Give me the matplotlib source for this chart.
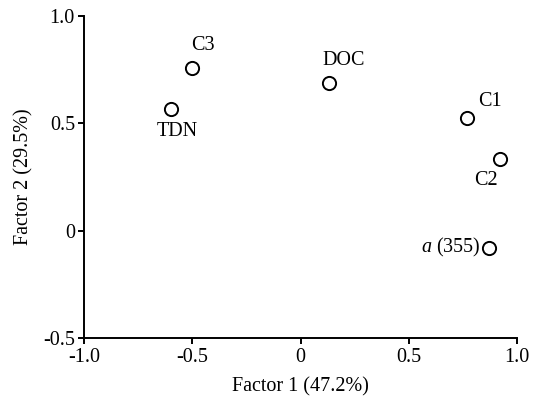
import matplotlib.pyplot as plt

# Factor loadings
names = ['C3', 'TDN', 'DOC', 'C1', 'C2', 'a (355)']
f1 = [-0.50, -0.60, 0.13, 0.77, 0.92, 0.87]
f2 = [0.76, 0.565, 0.69, 0.525, 0.335, -0.08]

plt.rcParams['font.family'] = ['Liberation Serif', 'DejaVu Serif']
plt.rcParams['mathtext.fontset'] = 'custom'
plt.rcParams['mathtext.it'] = 'Liberation Serif:italic'
plt.rcParams['mathtext.rm'] = 'Liberation Serif'

fig = plt.figure(figsize=(5.45, 4.01), dpi=100)
ax = fig.add_axes([0.154, 0.157, 0.795, 0.803])

ax.plot(f1, f2, 'o', ms=9.5, mfc='white', mec='black', mew=1.4, ls='none')

# label offsets (points)
offs = {'C3': (8, 9, 'center', 'bottom'),
        'TDN': (5, -9, 'center', 'top'),
        'DOC': (11, 9, 'center', 'bottom'),
        'C1': (16, 5, 'center', 'bottom'),
        'C2': (-10, -9, 'center', 'top'),
        'a (355)': (-6, 0, 'right', 'center')}
for n, x, y in zip(names, f1, f2):
    dx, dy, ha, va = offs[n]
    txt = r'$a$ (355)' if n == 'a (355)' else n
    ax.annotate(txt, (x, y), xytext=(dx, dy), textcoords='offset points',
                ha=ha, va=va, fontsize=14.5)

ax.set_xlim(-1.0, 1.0)
ax.set_ylim(-0.5, 1.0)
ax.set_xticks([-1.0, -0.5, 0, 0.5, 1.0])
ax.set_xticklabels(['-1.0', '-0.5', '0', '0.5', '1.0'])
ax.set_yticks([-0.5, 0, 0.5, 1.0])
ax.set_yticklabels(['-0.5', '0', '0.5', '1.0'])
ax.spines['top'].set_visible(False)
ax.spines['right'].set_visible(False)
for s in ['left', 'bottom']:
    ax.spines[s].set_linewidth(1.4)
ax.tick_params(direction='out', length=4.5, width=1.4, labelsize=14.5, pad=2)
ax.tick_params(axis='x', pad=3)

ax.set_xlabel('Factor 1 (47.2%)', fontsize=14.5, labelpad=7)
ax.set_ylabel('Factor 2 (29.5%)', fontsize=14.5, labelpad=7)

fig.savefig('out.png', dpi=100)
